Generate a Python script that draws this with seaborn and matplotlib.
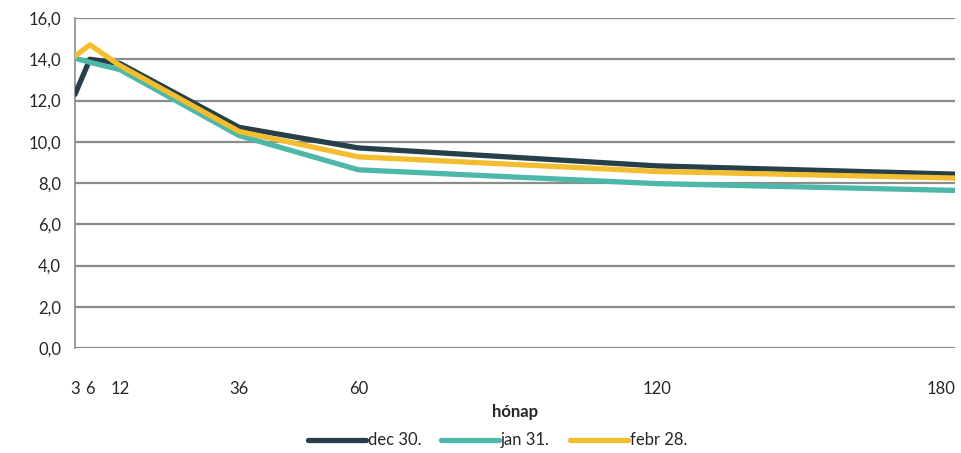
import pandas as pd
import numpy as np
import matplotlib
matplotlib.use("Agg")
import matplotlib.pyplot as plt
import seaborn as sns
from matplotlib.ticker import FuncFormatter

# data
honap = [3, 6, 12, 36, 60, 120, 180]
dec30 = [12.3, 14.0, 13.8, 10.7, 9.7, 8.83, 8.43]
jan31 = [14.05, 13.85, 13.5, 10.3, 8.64, 7.97, 7.64]
febr28 = [14.15, 14.7, 13.7, 10.5, 9.27, 8.56, 8.24]
series_names = ["dec 30.", "jan 31.", "febr 28."]
colors = ["#263f48", "#4db8a9", "#f2bd2f"]
y_ticks = [0, 2, 4, 6, 8, 10, 12, 14, 16]

df = pd.DataFrame({
    "hónap": honap * 3,
    "value": dec30 + jan31 + febr28,
    "series": [series_names[0]] * 7 + [series_names[1]] * 7 + [series_names[2]] * 7,
})

sns.set_style("white")
plt.rcParams["font.family"] = ["Lato", "DejaVu Sans"]

fig = plt.figure(figsize=(9.61, 4.53), dpi=100)
ax = fig.add_axes([75 / 961, 1 - 348 / 453, 880 / 961, 330 / 453])

sns.lineplot(data=df, x="hónap", y="value", hue="series", palette=colors,
             linewidth=3.8, ax=ax, legend=True, zorder=3)

ax.set_xlim(3, 180)
ax.set_ylim(0, 16)
ax.set_yticks(y_ticks)
ax.yaxis.set_major_formatter(FuncFormatter(lambda v, p: f"{v:.1f}".replace(".", ",")))
ax.set_xticks(honap)
ax.set_xticklabels([str(h) for h in honap])
ax.get_xticklabels()[-1].set_horizontalalignment("right")
for t in y_ticks:
    ax.axhline(t, color="#8c8c8c", linewidth=1.6, zorder=1)

for s in ["top", "right", "bottom"]:
    ax.spines[s].set_visible(False)
ax.spines["left"].set_color("#8c8c8c")
ax.spines["left"].set_linewidth(1.2)
ax.tick_params(axis="y", length=6, width=1.2, color="#8c8c8c", labelsize=12, pad=4)
ax.tick_params(axis="x", length=0, labelsize=12, pad=24)

ax.set_xlabel("hónap", fontsize=12, fontweight="bold", labelpad=5)
ax.set_ylabel("")

handles, labels = ax.get_legend_handles_labels()
leg = ax.legend(handles, labels, loc="center", bbox_to_anchor=(0.48, -0.28),
                ncol=3, frameon=False, fontsize=12, handlelength=3.5,
                handletextpad=0.1, columnspacing=1.2)

fig.savefig("out.png", dpi=100)
